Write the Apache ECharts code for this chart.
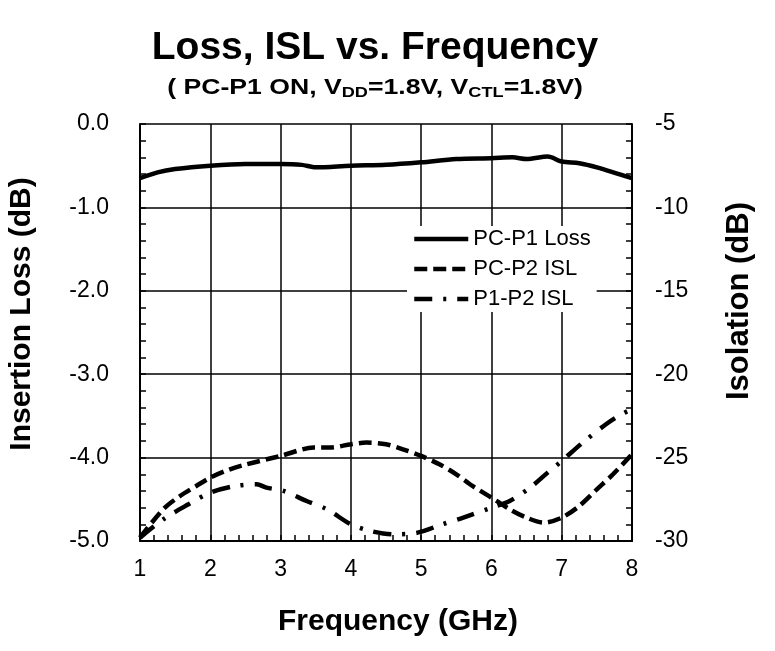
<!DOCTYPE html>
<html>
<head>
<meta charset="utf-8">
<script src="https://cdn.jsdelivr.net/npm/echarts@6/dist/echarts.min.js"></script>
<style>
  html, body { margin: 0; padding: 0; background: #fff; }
  #chart { width: 775px; height: 651px; }
</style>
</head>
<body>
<div id="chart"></div>
<script>
// data
const lossFreq = [1, 1.25, 1.5, 2, 2.5, 3, 3.3, 3.5, 4, 4.5, 5, 5.5, 6, 6.3, 6.5, 6.8, 7, 7.25, 7.5, 8];
const lossDb = [-0.65, -0.58, -0.54, -0.50, -0.48, -0.48, -0.49, -0.52, -0.50, -0.49, -0.46, -0.42, -0.41, -0.40, -0.42, -0.39, -0.45, -0.47, -0.52, -0.65];

const pcp2Freq = [1, 1.33, 1.57, 1.8, 2, 2.28, 2.52, 3, 3.47, 3.7, 4, 4.22, 4.5, 4.74, 5, 5.26, 5.5, 5.73, 6, 6.26, 6.5, 6.74, 7, 7.25, 7.5, 7.73, 8];
const pcp2Isl = [-29.8, -28.1, -27.3, -26.7, -26.2, -25.7, -25.4, -24.9, -24.4, -24.4, -24.2, -24.1, -24.2, -24.5, -24.9, -25.4, -26.0, -26.7, -27.4, -28.1, -28.6, -28.9, -28.6, -27.9, -26.9, -26.0, -24.8];

const p1p2Freq = [1, 1.33, 1.69, 2, 2.36, 2.66, 2.8, 3.04, 3.37, 3.66, 4, 4.28, 4.6, 4.95, 5.3, 5.6, 6, 6.26, 6.55, 6.8, 7, 7.3, 7.63, 7.85, 8];
const p1p2Isl = [-29.8, -28.7, -27.8, -27.1, -26.7, -26.6, -26.8, -27.0, -27.6, -28.1, -29.0, -29.4, -29.6, -29.5, -29.0, -28.6, -28.0, -27.6, -26.8, -25.9, -25.2, -24.1, -23.0, -22.4, -22.1];

const seriesNames = ['PC-P1 Loss', 'PC-P2 ISL', 'P1-P2 ISL'];
const dashes = ['solid', [13, 6], [18, 11, 3, 11]];

const zip = (xs, ys) => xs.map((x, i) => [x, ys[i]]);

const fam = '"Liberation Sans", Arial, sans-serif';
const bold = (size) => 'bold ' + size + 'px ' + fam;

const chart = echarts.init(document.getElementById('chart'));

// axis frame settings shared by the axes
const frameLine = { show: true, onZero: false, lineStyle: { color: '#000', width: 2 } };
const tick = { show: true, inside: true, length: 6, lineStyle: { color: '#000', width: 1.5 } };
const minor = { show: true, splitNumber: 5, length: 6, lineStyle: { color: '#000', width: 1.5 } };
const tickLabel = { fontFamily: fam, fontSize: 23, color: '#000' };

const option = {
  backgroundColor: '#fff',
  animation: false,
  graphic: [
    {
      type: 'text', x: 375, y: 48,
      style: { text: 'Loss, ISL vs. Frequency', font: bold(39), fill: '#000', align: 'center', verticalAlign: 'middle' },
    },
    {
      type: 'text', x: 375, y: 88, scaleX: 1.21,
      style: {
        text: '( PC-P1 ON, V{s|DD}=1.8V, V{s|CTL}=1.8V)',
        font: bold(22), fill: '#000', align: 'center', verticalAlign: 'middle',
        rich: { s: { font: bold(15), fill: '#000', verticalAlign: 'bottom', padding: [9, 0, 0, 0] } },
      },
    },
    {
      type: 'text', x: 22, y: 314, rotation: Math.PI / 2,
      style: { text: 'Insertion Loss (dB)', font: bold(30), fill: '#000', align: 'center', verticalAlign: 'middle' },
    },
    {
      type: 'text', x: 739, y: 301, rotation: Math.PI / 2,
      style: { text: 'Isolation (dB)', font: bold(31), fill: '#000', align: 'center', verticalAlign: 'middle' },
    },
    {
      type: 'text', x: 398, y: 622,
      style: { text: 'Frequency (GHz)', font: bold(30), fill: '#000', align: 'center', verticalAlign: 'middle' },
    },
  ],
  grid: { left: 140, right: 143, top: 124, bottom: 110 },
  legend: {
    orient: 'vertical',
    left: 407,
    top: 226,
    itemWidth: 54,
    itemHeight: 16,
    itemGap: 8,
    backgroundColor: '#fff',
    padding: [2, 6, 2, 5],
    itemStyle: { opacity: 0 },
    textStyle: { fontFamily: fam, fontSize: 22, color: '#000' },
    data: seriesNames.map((name, i) => ({
      name: name,
      lineStyle: { color: '#000', width: 4.5, type: dashes[i] },
    })),
  },
  xAxis: {
    type: 'value',
    min: 1,
    max: 8,
    interval: 1,
    axisLine: frameLine,
    axisTick: tick,
    minorTick: minor,
    splitLine: { show: true, lineStyle: { color: '#000', width: 1.5 } },
    axisLabel: Object.assign({ margin: 17 }, tickLabel),
  },
  yAxis: [
    {
      type: 'value',
      min: -5,
      max: 0,
      interval: 1,
      axisLine: frameLine,
      axisTick: tick,
      minorTick: minor,
      splitLine: { show: true, lineStyle: { color: '#000', width: 1.5 } },
      axisLabel: Object.assign({ margin: 31, formatter: (v) => v.toFixed(1) }, tickLabel),
    },
    {
      type: 'value',
      min: -30,
      max: -5,
      interval: 5,
      position: 'right',
      axisLine: frameLine,
      axisTick: tick,
      minorTick: minor,
      splitLine: { show: false },
      axisLabel: Object.assign({ margin: 23 }, tickLabel),
    },
  ],
  series: [
    {
      name: seriesNames[0],
      type: 'line',
      yAxisIndex: 0,
      data: zip(lossFreq, lossDb),
      smooth: 0.3,
      showSymbol: false,
      symbol: 'none',
      lineStyle: { color: '#000', width: 4.5, type: dashes[0] },
      itemStyle: { color: '#000' },
    },
    {
      name: seriesNames[1],
      type: 'line',
      yAxisIndex: 1,
      data: zip(pcp2Freq, pcp2Isl),
      smooth: 0.3,
      showSymbol: false,
      symbol: 'none',
      lineStyle: { color: '#000', width: 4.5, type: dashes[1] },
      itemStyle: { color: '#000' },
    },
    {
      name: seriesNames[2],
      type: 'line',
      yAxisIndex: 1,
      data: zip(p1p2Freq, p1p2Isl),
      smooth: 0.3,
      showSymbol: false,
      symbol: 'none',
      lineStyle: { color: '#000', width: 4.5, type: dashes[2] },
      itemStyle: { color: '#000' },
    },
  ],
};

chart.setOption(option);
</script>
</body>
</html>
